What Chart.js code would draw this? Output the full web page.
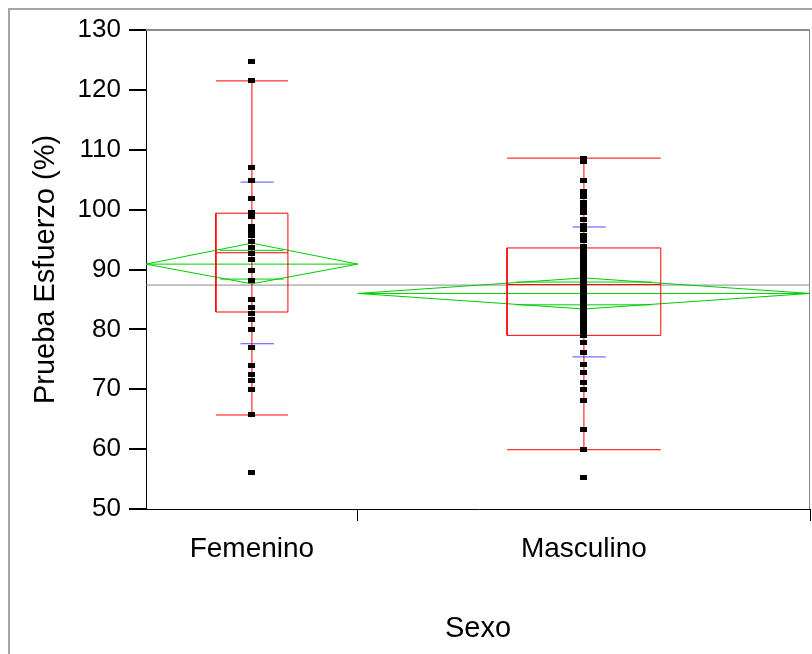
<!DOCTYPE html>
<html lang="es">
<head>
<meta charset="UTF-8" />
<title>Prueba Esfuerzo por Sexo</title>
<script src="https://cdn.jsdelivr.net/npm/chart.js@4.4.0/dist/chart.umd.min.js"></script>
<style>
  body { margin: 0; background: #fff; }
  #oneway { display: block; }
</style>
</head>
<body>
<canvas id="oneway" width="812" height="654"></canvas>
<script>
  // --- data ---
  const categories = ["Femenino", "Masculino"];
  const femValues = [124.8, 121.5, 107.1, 104.8, 101.8, 99.6, 98.8, 97.2, 96.4, 95.6, 94.6, 93.6,
    92.6, 91.6, 89.8, 88.1, 85.0, 83.6, 82.6, 81.6, 80.0, 77.0, 73.9, 72.4, 71.4, 70.0, 65.7, 56.1];
  const maleValues = [108.6, 108.0, 104.9, 103.1, 102.2, 101.2, 100.4, 99.6, 98.3, 97.4, 96.6, 95.7,
    94.8, 93.9, 93.0, 92.2, 91.4, 90.7, 90.0, 89.2, 88.4, 87.6, 86.8, 86.2, 85.4, 84.6, 83.8, 83.0,
    82.2, 81.4, 80.6, 79.8, 79.0, 77.8, 76.1, 74.2, 72.8, 71.2, 69.9, 68.1, 63.2, 59.9, 55.2];

  const q1 = [82.9, 79.0];
  const median = [92.8, 87.5];
  const q3 = [99.4, 93.6];
  const whiskerLow = [65.7, 59.9];
  const whiskerHigh = [121.5, 108.6];

  const means = [90.9, 86.0];
  const ciLow = [87.6, 83.4];
  const ciHigh = [94.4, 88.6];
  const overlapLow = [88.4, 84.1];
  const overlapHigh = [93.2, 87.9];
  const sdLow = [77.6, 75.4];
  const sdHigh = [104.6, 97.1];
  const grandMean = 87.4;

  const yTicks = [50, 60, 70, 80, 90, 100, 110, 120, 130];

  // --- layout on the x axis (0..1), group widths follow group size ---
  const segStart = [0, 0.319];
  const segWidth = [0.319, 0.681];
  const center = i => segStart[i] + segWidth[i] / 2;

  const RED = "#ff0000", GREEN = "#00cc00", BLUE = "#4d4dff", GRAY = "#8a8a8a";

  function seg(pts, color, width) {
    return {
      type: "scatter",
      data: pts.map(p => ({ x: p[0], y: p[1] })),
      showLine: true,
      borderColor: color,
      borderWidth: width || 1,
      pointRadius: 0,
      fill: false,
    };
  }

  // small black rectangle marker
  const marker = document.createElement("canvas");
  marker.width = 7;
  marker.height = 5;
  marker.getContext("2d").fillRect(0, 0, 7, 5);

  const datasets = [];
  [femValues, maleValues].forEach((vals, i) => {
    datasets.push({
      type: "scatter",
      data: vals.map(v => ({ x: center(i), y: v })),
      pointStyle: marker,
      pointRadius: 3,
    });
  });

  categories.forEach((c, i) => {
    const xc = center(i);
    const x0 = segStart[i], x1 = segStart[i] + segWidth[i];
    const bw = segWidth[i] * 0.17;
    const ow = segWidth[i] * 0.15;
    const sx = xc + 0.008;

    // outlier box
    datasets.push(seg([[xc - bw, q1[i]], [xc + bw, q1[i]], [xc + bw, q3[i]], [xc - bw, q3[i]], [xc - bw, q1[i]]], RED));
    datasets.push(seg([[xc - bw, median[i]], [xc + bw, median[i]]], RED));
    datasets.push(seg([[xc, whiskerLow[i]], [xc, whiskerHigh[i]]], RED));
    datasets.push(seg([[xc - bw, whiskerLow[i]], [xc + bw, whiskerLow[i]]], RED));
    datasets.push(seg([[xc - bw, whiskerHigh[i]], [xc + bw, whiskerHigh[i]]], RED));

    // std dev marks
    datasets.push(seg([[sx - 0.025, sdLow[i]], [sx + 0.025, sdLow[i]]], BLUE));
    datasets.push(seg([[sx - 0.025, sdHigh[i]], [sx + 0.025, sdHigh[i]]], BLUE));

    // means diamond
    datasets.push(seg([[x0, means[i]], [xc, ciHigh[i]], [x1, means[i]], [xc, ciLow[i]], [x0, means[i]]], GREEN));
    datasets.push(seg([[x0, means[i]], [x1, means[i]]], GREEN));
    datasets.push(seg([[xc - ow, overlapLow[i]], [xc + ow, overlapLow[i]]], GREEN));
    datasets.push(seg([[xc - ow, overlapHigh[i]], [xc + ow, overlapHigh[i]]], GREEN));
  });

  datasets.push(seg([[0, grandMean], [1, grandMean]], GRAY));

  const framePlugin = {
    id: "frame",
    afterDraw(chart) {
      const { ctx, chartArea: a } = chart;
      ctx.save();
      ctx.strokeStyle = "#a6a6a6";
      ctx.lineWidth = 2;
      ctx.strokeRect(9, 9, 900, 900);
      ctx.strokeStyle = GRAY;
      ctx.beginPath();
      ctx.moveTo(a.left, a.top);
      ctx.lineTo(a.right, a.top);
      ctx.stroke();
      ctx.lineWidth = 1;
      ctx.beginPath();
      ctx.moveTo(a.right - 0.5, a.top);
      ctx.lineTo(a.right - 0.5, a.bottom);
      ctx.stroke();
      ctx.restore();
    },
  };

  const FONT = "'Liberation Sans', Arial, sans-serif";

  new Chart(document.getElementById("oneway"), {
    data: { datasets: datasets },
    plugins: [framePlugin],
    options: {
      responsive: false,
      animation: false,
      devicePixelRatio: 1,
      layout: { autoPadding: false, padding: { top: 30, right: 2, left: 0, bottom: 0 } },
      plugins: { legend: { display: false }, tooltip: { enabled: false } },
      scales: {
        x: {
          type: "linear",
          min: 0,
          max: 1,
          afterFit(s) {
            s.height = 145;
            s.paddingLeft = 0;
            s.paddingRight = 0;
          },
          afterBuildTicks(s) {
            s.ticks = [
              { value: center(0) }, { value: segStart[1] },
              { value: center(1) }, { value: 1 },
            ];
          },
          grid: {
            drawOnChartArea: false,
            tickLength: 12,
            tickColor: ctx => (ctx.index % 2 === 1 ? "#000" : "rgba(0,0,0,0)"),
          },
          border: { color: "#000", width: 1 },
          ticks: {
            autoSkip: false,
            maxRotation: 0,
            color: "#000",
            padding: 11,
            font: { family: FONT, size: 28 },
            callback: (v, idx) => (idx % 2 === 0 ? categories[idx / 2] : ""),
          },
          title: {
            display: true,
            text: "Sexo",
            color: "#000",
            font: { family: FONT, size: 29 },
            padding: { top: 0, bottom: 8 },
          },
        },
        y: {
          min: 50,
          max: 130,
          afterFit(s) {
            s.width = 146;
            s.paddingTop = 0;
            s.paddingBottom = 0;
          },
          afterBuildTicks(s) { s.ticks = yTicks.map(v => ({ value: v })); },
          grid: { drawOnChartArea: false, tickLength: 17, color: "#000", lineWidth: 2 },
          border: { color: "#000", width: 1 },
          ticks: {
            autoSkip: false,
            color: "#000",
            padding: 8,
            font: { family: FONT, size: 26 },
          },
          title: {
            display: true,
            text: "Prueba Esfuerzo (%)",
            color: "#000",
            font: { family: FONT, size: 29 },
            padding: { top: 29, bottom: 0 },
          },
        },
      },
    },
  });
</script>
</body>
</html>
